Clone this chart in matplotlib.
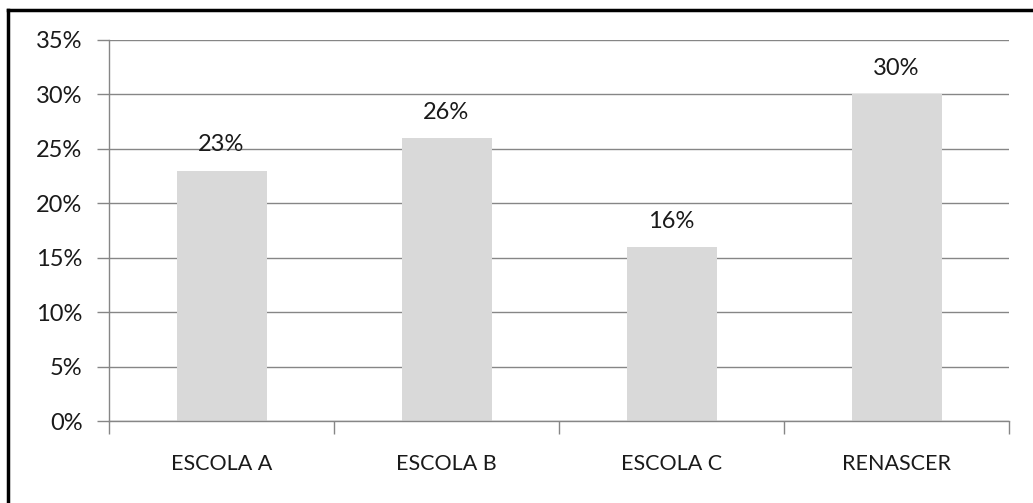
import numpy as np
import matplotlib.pyplot as plt
from matplotlib.lines import Line2D

# data
escolas = ["ESCOLA A", "ESCOLA B", "ESCOLA C", "RENASCER"]
valores = [23, 26, 16, 30]
yticks = [0, 5, 10, 15, 20, 25, 30, 35]

plt.rcParams['font.family'] = ['Lato', 'DejaVu Sans']
cinza = '#868686'

fig = plt.figure(figsize=(10.33, 5.03), dpi=100)
ax = fig.add_axes([109 / 1033, 1 - 421 / 503, 900 / 1033, 381 / 503])

x = np.arange(len(escolas))
ax.bar(x, valores, width=0.4, color='#d9d9d9', zorder=2)

for xi, v in zip(x, valores):
    ax.annotate("%d%%" % v, (xi, v), xytext=(0, 11), textcoords='offset points',
                ha='center', va='bottom', fontsize=17, color='#1a1a1a', zorder=3)

ax.set_xlim(-0.5, len(escolas) - 0.5)
ax.set_ylim(0, 35)
ax.set_yticks(yticks)
ax.set_yticklabels(["%d%%" % t for t in yticks], fontsize=17, color='#1a1a1a')
ax.yaxis.grid(True, color=cinza, linewidth=1, zorder=0)

ax.set_xticks(x)
ax.set_xticklabels(escolas, fontsize=15.5, color='#1a1a1a')
ax.tick_params(axis='x', length=0, pad=24)
ax.tick_params(axis='y', length=9, width=1, color=cinza, pad=10)
# marcas entre categorias
ax.set_xticks(np.arange(-0.5, len(escolas)), minor=True)
ax.tick_params(axis='x', which='minor', length=9, width=1, color=cinza, direction='out')

for lado in ['top', 'right']:
    ax.spines[lado].set_visible(False)
for lado in ['left', 'bottom']:
    ax.spines[lado].set_color(cinza)
    ax.spines[lado].set_linewidth(1)

# borda do grafico (so topo e esquerda aparecem)
fig.add_artist(Line2D([8 / 1033, 1.0], [1 - 9.5 / 503, 1 - 9.5 / 503], color='black', linewidth=2.5,
                      transform=fig.transFigure))
fig.add_artist(Line2D([8 / 1033, 8 / 1033], [0, 1 - 9.5 / 503], color='black', linewidth=2.5,
                      transform=fig.transFigure))

plt.savefig("out.png", dpi=100)
